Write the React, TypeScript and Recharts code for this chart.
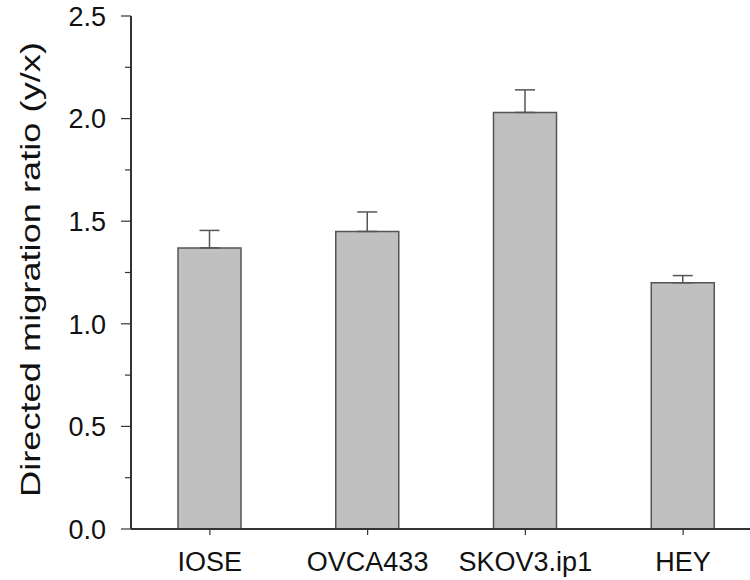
import React from 'react';
import { BarChart, Bar, XAxis, YAxis, ErrorBar, Label } from 'recharts';

const categories = ['IOSE', 'OVCA433', 'SKOV3.ip1', 'HEY'];
const values = [1.37, 1.45, 2.03, 1.2];
const errors = [0.085, 0.095, 0.11, 0.035];
const yTicks = [0, 0.25, 0.5, 0.75, 1, 1.25, 1.5, 1.75, 2, 2.25, 2.5];

const data = categories.map((name, i) => ({
  name,
  value: values[i],
  err: [0, errors[i]],
}));

const FONT = '"Liberation Sans", Arial, Helvetica, sans-serif';

const YTick = (props: any) => {
  const { x, y, payload } = props;
  const v = payload.value as number;
  const major = Math.abs((v * 2) - Math.round(v * 2)) < 1e-6;
  const axisX = x + 10;
  return (
    <g>
      <line x1={axisX} x2={major ? axisX - 10 : axisX - 6} y1={y} y2={y} stroke="#333" strokeWidth={1.2} />
      {major && (
        <text x={axisX - 25} y={y} dy="0.36em" textAnchor="end" fontSize={27} fontFamily={FONT} fill="#111">
          {v.toFixed(1)}
        </text>
      )}
    </g>
  );
};

const YLabel = (props: any) => {
  const vb = props.viewBox || {};
  const cy = (vb.y || 0) + (vb.height || 0) / 2 - 3;
  const bx = 40;
  return (
    <text
      x={bx}
      y={cy}
      transform={`rotate(-90 ${bx} ${cy})`}
      textAnchor="middle"
      fontSize={28}
      textLength={455}
      lengthAdjust="spacingAndGlyphs"
      fontFamily={FONT}
      fill="#111"
    >
      Directed migration ratio (y/x)
    </text>
  );
};

export default function App() {
  return (
    <div style={{ position: 'absolute', left: 0, top: 0, width: 750, height: 580, overflow: 'hidden', background: '#fff' }}>
      <BarChart width={770} height={580} data={data} margin={{ top: 16, right: 8, bottom: 0, left: 0 }}>
        <XAxis
          dataKey="name"
          height={51}
          tickSize={6}
          tickMargin={17}
          axisLine={{ stroke: '#333', strokeWidth: 2 }}
          tickLine={{ stroke: '#333', strokeWidth: 1.2 }}
          tick={{ fontSize: 27, fontFamily: FONT, fill: '#111' }}
          interval={0}
        />
        <XAxis
          xAxisId="top"
          orientation="top"
          dataKey="name"
          height={0}
          tick={false}
          tickLine={false}
          axisLine={{ stroke: '#333', strokeWidth: 2 }}
        />
        <YAxis
          type="number"
          domain={[0, 2.5]}
          ticks={yTicks}
          interval={0}
          width={131}
          tickSize={10}
          tickMargin={0}
          tickLine={false}
          axisLine={{ stroke: '#333', strokeWidth: 2 }}
          tick={<YTick />}
        >
          <Label content={<YLabel />} />
        </YAxis>
        <Bar dataKey="value" fill="#c0c0c0" stroke="#555" strokeWidth={1.5} barSize={63} isAnimationActive={false}>
          <ErrorBar dataKey="err" direction="y" width={10} stroke="#555" strokeWidth={1.5} />
        </Bar>
      </BarChart>
    </div>
  );
}
